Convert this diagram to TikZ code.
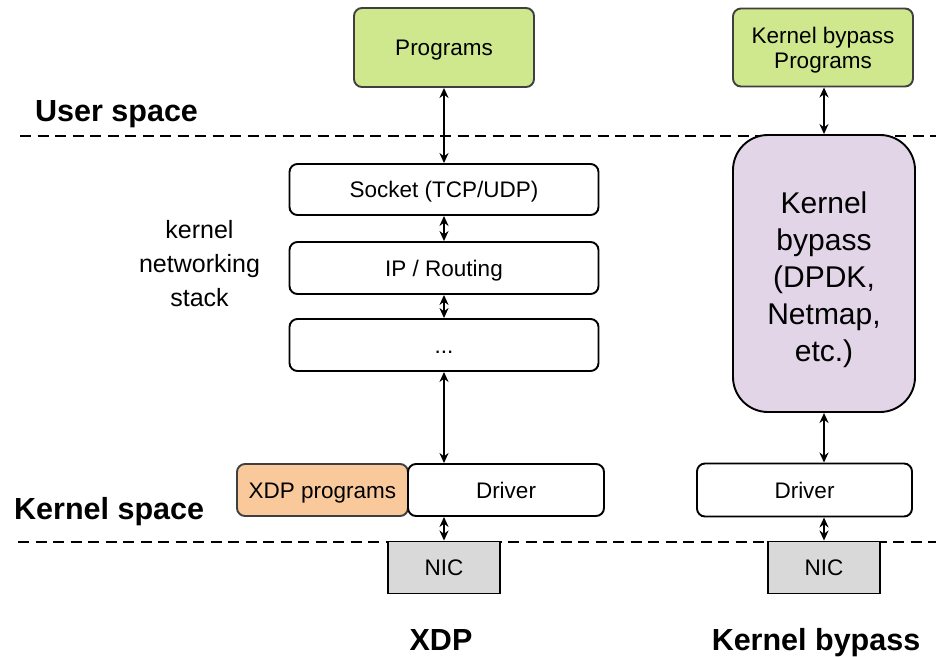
\documentclass[tikz,border=0pt]{standalone}
\usepackage{fontspec}
\setmainfont{Liberation Sans}
\usetikzlibrary{arrows.meta}

\definecolor{progfill}{HTML}{CFE88D}
\definecolor{xdpfill}{HTML}{F9C99C}
\definecolor{bypassfill}{HTML}{E1D5E7}
\definecolor{nicfill}{HTML}{D9D9D9}
\definecolor{edgegray}{HTML}{3F3F3F}

\tikzset{
  layerbox/.style={draw=black, line width=1.9pt, rounded corners=8pt, fill=white,
    inner sep=0pt, font=\fontsize{22.5}{25}\selectfont, align=center},
  oneline/.style={text height=16pt, text depth=0pt},
  progbox/.style={layerbox, draw=edgegray, fill=progfill},
  xdpbox/.style={layerbox, draw=edgegray, fill=xdpfill},
  bypassbox/.style={layerbox, fill=bypassfill, rounded corners=35pt,
    font=\fontsize{30}{37}\selectfont},
  nicbox/.style={draw=black, line width=1.9pt, fill=nicfill, inner sep=0pt,
    font=\fontsize{22.5}{25}\selectfont, oneline},
  spacelabel/.style={inner sep=0pt, font=\fontsize{30.5}{34}\selectfont\bfseries},
  notelabel/.style={inner sep=0pt, align=center, font=\fontsize{25}{34}\selectfont},
  biarrow/.style={{Stealth[length=10pt,width=9pt]}-{Stealth[length=10pt,width=9pt]}, line width=1.9pt},
  boundary/.style={line width=2.4pt, dash pattern=on 11pt off 6.5pt}
}

\begin{document}
\begin{tikzpicture}[x=1pt, y=-1pt]
  \useasboundingbox (0,0) rectangle (936,656);

  % user/kernel boundary lines
  \coordinate (ua) at (20,136);
  \coordinate (ub) at (936,136);
  \coordinate (ka) at (18,542);
  \coordinate (kb) at (936,542);
  \draw[boundary] (ua) -- (ub);
  \draw[boundary] (ka) -- (kb);

  % region labels
  \node[spacelabel, anchor=base west] (user) at (35,121) {User space};
  \node[spacelabel, anchor=base west] (kern) at (14,519) {Kernel space};
  \node[notelabel] (stack) at (199.5,264) {kernel\\networking\\stack};

  % XDP column
  \node[progbox, oneline, minimum width=180pt, minimum height=79pt] (prog) at (444,47.5) {Programs};
  \node[layerbox, oneline, minimum width=309pt, minimum height=51pt] (sock) at (444,189.5) {Socket (TCP/UDP)};
  \node[layerbox, oneline, minimum width=309pt, minimum height=52pt] (ip) at (444,268) {IP / Routing};
  \node[layerbox, oneline, minimum width=309pt, minimum height=52pt] (dots) at (444,345) {...};
  \node[xdpbox, oneline, minimum width=171pt, minimum height=52pt] (xdp) at (322.5,490) {XDP programs};
  \node[layerbox, oneline, minimum width=196pt, minimum height=52pt] (drv) at (506,490) {Driver};
  \node[nicbox, minimum width=112pt, minimum height=52pt] (nic) at (444,567.5) {NIC};

  \draw[biarrow] (prog.south) -- (sock.north);
  \draw[biarrow] (sock.south) -- (ip.north);
  \draw[biarrow] (ip.south) -- (dots.north);
  \draw[biarrow] (dots.south) -- (dots.south |- drv.north);
  \draw[biarrow] (nic.north |- drv.south) -- (nic.north);

  % kernel bypass column
  \node[progbox, text depth=0pt, minimum width=180pt, minimum height=78pt] (kbprog) at (823,47.5) {Kernel bypass\\Programs};
  \node[bypassbox, text depth=0pt, minimum width=182pt, minimum height=277pt] (kbyp) at (824,273.5) {\rule{0pt}{27pt}Kernel\\bypass\\(DPDK,\\Netmap,\\etc.)};
  \node[layerbox, oneline, minimum width=215pt, minimum height=53pt] (rdrv) at (804.5,490) {Driver};
  \node[nicbox, minimum width=112pt, minimum height=52pt] (rnic) at (824,567.5) {NIC};

  \draw[biarrow] (kbprog.south -| kbyp.north) -- (kbyp.north);
  \draw[biarrow] (kbyp.south) -- (kbyp.south |- rdrv.north);
  \draw[biarrow] (rnic.north |- rdrv.south) -- (rnic.north);

  % column captions
  \node[spacelabel, anchor=base] (xdpcap) at (441,650) {XDP};
  \node[spacelabel, anchor=base] (kbcap) at (816,650) {Kernel bypass};
\end{tikzpicture}
\end{document}
